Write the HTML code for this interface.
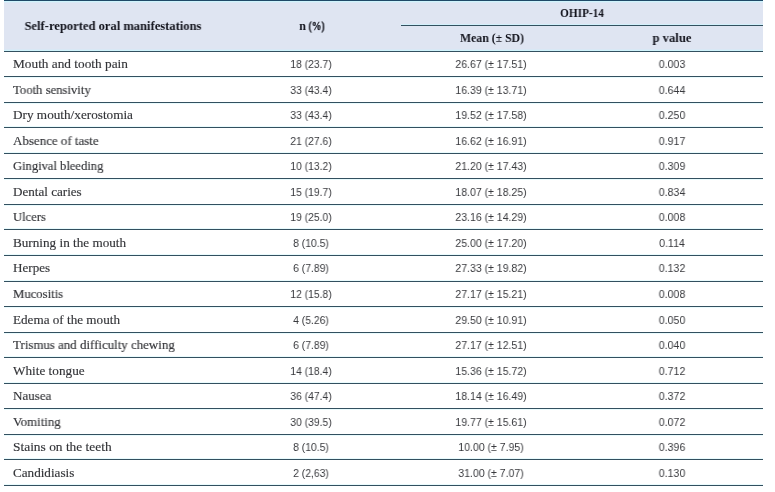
<!DOCTYPE html>
<html><head><meta charset="utf-8"><style>
*{margin:0;padding:0;box-sizing:border-box}
html,body{width:775px;height:492px;background:#fff;overflow:hidden}
body{position:relative}
.hd{position:absolute;left:4px;top:0;width:759px;height:51px;background:#dfe5f2}
.ln{position:absolute;left:4px;width:759px;height:1px;background:#33505f}
.t{position:absolute;will-change:transform;white-space:nowrap;line-height:20px;height:20px}
.b{font-family:"Liberation Serif",serif;font-weight:bold;color:#12131c;font-size:12.8px}
.s{font-family:"Liberation Serif",serif;font-size:13.1px;color:#333438;-webkit-text-stroke:0.15px #333438}
.n{font-family:"Liberation Sans",sans-serif;font-size:11.5px;color:#38393d}
</style></head><body>
<div class="hd"></div>
<div class="ln" style="top:0;background:#1f4a68"></div>
<div class="ln" style="top:25px;left:401px;width:362px"></div>
<div class="ln" style="top:1px;background:#cff4fc"></div>
<div class="ln" style="top:2px;background:#d9e9f6"></div>
<div class="ln" style="top:24px;left:401px;width:362px;background:#d2f0fb"></div>
<div class="ln" style="top:50px;background:#cff3fb"></div>
<div class="ln" style="top:49px;background:#d9e8f5"></div>
<div class="ln" style="top:77px;background:#e9fbfd"></div>
<div class="ln" style="top:103px;background:#e9fbfd"></div>
<div class="ln" style="top:126px;background:#e9fbfd"></div>
<div class="ln" style="top:152px;background:#e9fbfd"></div>
<div class="ln" style="top:179px;background:#e9fbfd"></div>
<div class="ln" style="top:205px;background:#e9fbfd"></div>
<div class="ln" style="top:228px;background:#e9fbfd"></div>
<div class="ln" style="top:254px;background:#e9fbfd"></div>
<div class="ln" style="top:280px;background:#e9fbfd"></div>
<div class="ln" style="top:307px;background:#e9fbfd"></div>
<div class="ln" style="top:333px;background:#e9fbfd"></div>
<div class="ln" style="top:356px;background:#e9fbfd"></div>
<div class="ln" style="top:382px;background:#e9fbfd"></div>
<div class="ln" style="top:409px;background:#e9fbfd"></div>
<div class="ln" style="top:435px;background:#e9fbfd"></div>
<div class="ln" style="top:458px;background:#e9fbfd"></div>
<div class="ln" style="top:484px;background:#e9fbfd"></div>
<div class="ln" style="top:51px"></div>
<div class="ln" style="top:76px"></div>
<div class="ln" style="top:102px"></div>
<div class="ln" style="top:127px"></div>
<div class="ln" style="top:153px"></div>
<div class="ln" style="top:178px"></div>
<div class="ln" style="top:204px"></div>
<div class="ln" style="top:229px"></div>
<div class="ln" style="top:255px"></div>
<div class="ln" style="top:281px"></div>
<div class="ln" style="top:306px"></div>
<div class="ln" style="top:332px"></div>
<div class="ln" style="top:357px"></div>
<div class="ln" style="top:383px"></div>
<div class="ln" style="top:408px"></div>
<div class="ln" style="top:434px"></div>
<div class="ln" style="top:459px"></div>
<div class="ln" style="top:485px"></div>
<div class="t b" style="left:112.6px;top:16.00px;transform:translateX(-50%) scaleX(0.981)">Self-reported oral manifestations</div>
<div class="t b" style="left:311.8px;top:16.00px;transform:translateX(-50%) scaleX(0.93)">n <span style="display:inline-block;transform:scaleX(0.8);transform-origin:0 50%;margin-right:-4.3px;-webkit-text-stroke:0.35px #12131c">(%)</span></div>
<div class="t b" style="left:582px;top:3.00px;transform:translateX(-50%) scaleX(0.884)">OHIP-14</div>
<div class="t b" style="left:491.8px;top:28.00px;transform:translateX(-50%) scaleX(0.92)">Mean (± SD)</div>
<div class="t b" style="left:672px;top:28.00px;transform:translateX(-50%) scaleX(0.988)">p value</div>
<div class="t s" style="left:13.4px;top:53.50px;transform-origin:0 0;transform:scaleX(1.016)">Mouth and tooth pain</div>
<div class="t n" style="left:311.3px;top:54.00px;transform:translateX(-50%) scaleX(0.9)">18 (23.7)</div>
<div class="t n" style="left:491.4px;top:54.00px;transform:translateX(-50%) scaleX(0.915)">26.67 (± 17.51)</div>
<div class="t n" style="left:672px;top:54.00px;transform:translateX(-50%) scaleX(0.92)">0.003</div>
<div class="t s" style="left:13.4px;top:79.50px;transform-origin:0 0;transform:scaleX(0.969)">Tooth sensivity</div>
<div class="t n" style="left:311.3px;top:80.00px;transform:translateX(-50%) scaleX(0.9)">33 (43.4)</div>
<div class="t n" style="left:491.4px;top:80.00px;transform:translateX(-50%) scaleX(0.915)">16.39 (± 13.71)</div>
<div class="t n" style="left:672px;top:80.00px;transform:translateX(-50%) scaleX(0.92)">0.644</div>
<div class="t s" style="left:13.4px;top:104.50px;transform-origin:0 0;transform:scaleX(1.009)">Dry mouth/xerostomia</div>
<div class="t n" style="left:311.3px;top:105.00px;transform:translateX(-50%) scaleX(0.9)">33 (43.4)</div>
<div class="t n" style="left:491.4px;top:105.00px;transform:translateX(-50%) scaleX(0.915)">19.52 (± 17.58)</div>
<div class="t n" style="left:672px;top:105.00px;transform:translateX(-50%) scaleX(0.92)">0.250</div>
<div class="t s" style="left:13.4px;top:130.50px;transform-origin:0 0;transform:scaleX(0.99)">Absence of taste</div>
<div class="t n" style="left:311.3px;top:131.00px;transform:translateX(-50%) scaleX(0.9)">21 (27.6)</div>
<div class="t n" style="left:491.4px;top:131.00px;transform:translateX(-50%) scaleX(0.915)">16.62 (± 16.91)</div>
<div class="t n" style="left:672px;top:131.00px;transform:translateX(-50%) scaleX(0.92)">0.917</div>
<div class="t s" style="left:13.4px;top:155.50px;transform-origin:0 0;transform:scaleX(0.959)">Gingival bleeding</div>
<div class="t n" style="left:311.3px;top:156.00px;transform:translateX(-50%) scaleX(0.9)">10 (13.2)</div>
<div class="t n" style="left:491.4px;top:156.00px;transform:translateX(-50%) scaleX(0.915)">21.20 (± 17.43)</div>
<div class="t n" style="left:672px;top:156.00px;transform:translateX(-50%) scaleX(0.92)">0.309</div>
<div class="t s" style="left:13.4px;top:181.50px;transform-origin:0 0;transform:scaleX(0.999)">Dental caries</div>
<div class="t n" style="left:311.3px;top:182.00px;transform:translateX(-50%) scaleX(0.9)">15 (19.7)</div>
<div class="t n" style="left:491.4px;top:182.00px;transform:translateX(-50%) scaleX(0.915)">18.07 (± 18.25)</div>
<div class="t n" style="left:672px;top:182.00px;transform:translateX(-50%) scaleX(0.92)">0.834</div>
<div class="t s" style="left:13.4px;top:206.50px;transform-origin:0 0;transform:scaleX(0.961)">Ulcers</div>
<div class="t n" style="left:311.3px;top:207.00px;transform:translateX(-50%) scaleX(0.9)">19 (25.0)</div>
<div class="t n" style="left:491.4px;top:207.00px;transform:translateX(-50%) scaleX(0.915)">23.16 (± 14.29)</div>
<div class="t n" style="left:672px;top:207.00px;transform:translateX(-50%) scaleX(0.92)">0.008</div>
<div class="t s" style="left:13.4px;top:232.50px;transform-origin:0 0;transform:scaleX(1.006)">Burning in the mouth</div>
<div class="t n" style="left:311.3px;top:233.00px;transform:translateX(-50%) scaleX(0.9)">8 (10.5)</div>
<div class="t n" style="left:491.4px;top:233.00px;transform:translateX(-50%) scaleX(0.915)">25.00 (± 17.20)</div>
<div class="t n" style="left:672px;top:233.00px;transform:translateX(-50%) scaleX(0.92)">0.114</div>
<div class="t s" style="left:13.4px;top:257.50px;transform-origin:0 0;transform:scaleX(0.997)">Herpes</div>
<div class="t n" style="left:311.3px;top:258.00px;transform:translateX(-50%) scaleX(0.9)">6 (7.89)</div>
<div class="t n" style="left:491.4px;top:258.00px;transform:translateX(-50%) scaleX(0.915)">27.33 (± 19.82)</div>
<div class="t n" style="left:672px;top:258.00px;transform:translateX(-50%) scaleX(0.92)">0.132</div>
<div class="t s" style="left:13.4px;top:283.50px;transform-origin:0 0;transform:scaleX(0.969)">Mucositis</div>
<div class="t n" style="left:311.3px;top:284.00px;transform:translateX(-50%) scaleX(0.9)">12 (15.8)</div>
<div class="t n" style="left:491.4px;top:284.00px;transform:translateX(-50%) scaleX(0.915)">27.17 (± 15.21)</div>
<div class="t n" style="left:672px;top:284.00px;transform:translateX(-50%) scaleX(0.92)">0.008</div>
<div class="t s" style="left:13.4px;top:309.50px;transform-origin:0 0;transform:scaleX(1.004)">Edema of the mouth</div>
<div class="t n" style="left:311.3px;top:310.00px;transform:translateX(-50%) scaleX(0.9)">4 (5.26)</div>
<div class="t n" style="left:491.4px;top:310.00px;transform:translateX(-50%) scaleX(0.915)">29.50 (± 10.91)</div>
<div class="t n" style="left:672px;top:310.00px;transform:translateX(-50%) scaleX(0.92)">0.050</div>
<div class="t s" style="left:13.4px;top:334.50px;transform-origin:0 0;transform:scaleX(0.986)">Trismus and difficulty chewing</div>
<div class="t n" style="left:311.3px;top:335.00px;transform:translateX(-50%) scaleX(0.9)">6 (7.89)</div>
<div class="t n" style="left:491.4px;top:335.00px;transform:translateX(-50%) scaleX(0.915)">27.17 (± 12.51)</div>
<div class="t n" style="left:672px;top:335.00px;transform:translateX(-50%) scaleX(0.92)">0.040</div>
<div class="t s" style="left:13.4px;top:360.50px;transform-origin:0 0;transform:scaleX(1.01)">White tongue</div>
<div class="t n" style="left:311.3px;top:361.00px;transform:translateX(-50%) scaleX(0.9)">14 (18.4)</div>
<div class="t n" style="left:491.4px;top:361.00px;transform:translateX(-50%) scaleX(0.915)">15.36 (± 15.72)</div>
<div class="t n" style="left:672px;top:361.00px;transform:translateX(-50%) scaleX(0.92)">0.712</div>
<div class="t s" style="left:13.4px;top:385.50px;transform-origin:0 0;transform:scaleX(0.992)">Nausea</div>
<div class="t n" style="left:311.3px;top:386.00px;transform:translateX(-50%) scaleX(0.9)">36 (47.4)</div>
<div class="t n" style="left:491.4px;top:386.00px;transform:translateX(-50%) scaleX(0.915)">18.14 (± 16.49)</div>
<div class="t n" style="left:672px;top:386.00px;transform:translateX(-50%) scaleX(0.92)">0.372</div>
<div class="t s" style="left:13.4px;top:411.50px;transform-origin:0 0;transform:scaleX(0.983)">Vomiting</div>
<div class="t n" style="left:311.3px;top:412.00px;transform:translateX(-50%) scaleX(0.9)">30 (39.5)</div>
<div class="t n" style="left:491.4px;top:412.00px;transform:translateX(-50%) scaleX(0.915)">19.77 (± 15.61)</div>
<div class="t n" style="left:672px;top:412.00px;transform:translateX(-50%) scaleX(0.92)">0.072</div>
<div class="t s" style="left:13.4px;top:436.50px;transform-origin:0 0;transform:scaleX(1.024)">Stains on the teeth</div>
<div class="t n" style="left:311.3px;top:437.00px;transform:translateX(-50%) scaleX(0.9)">8 (10.5)</div>
<div class="t n" style="left:491.4px;top:437.00px;transform:translateX(-50%) scaleX(0.915)">10.00 (± 7.95)</div>
<div class="t n" style="left:672px;top:437.00px;transform:translateX(-50%) scaleX(0.92)">0.396</div>
<div class="t s" style="left:13.4px;top:462.50px;transform-origin:0 0;transform:scaleX(1.003)">Candidiasis</div>
<div class="t n" style="left:311.3px;top:463.00px;transform:translateX(-50%) scaleX(0.9)">2 (2,63)</div>
<div class="t n" style="left:491.4px;top:463.00px;transform:translateX(-50%) scaleX(0.915)">31.00 (± 7.07)</div>
<div class="t n" style="left:672px;top:463.00px;transform:translateX(-50%) scaleX(0.92)">0.130</div>
</body></html>
